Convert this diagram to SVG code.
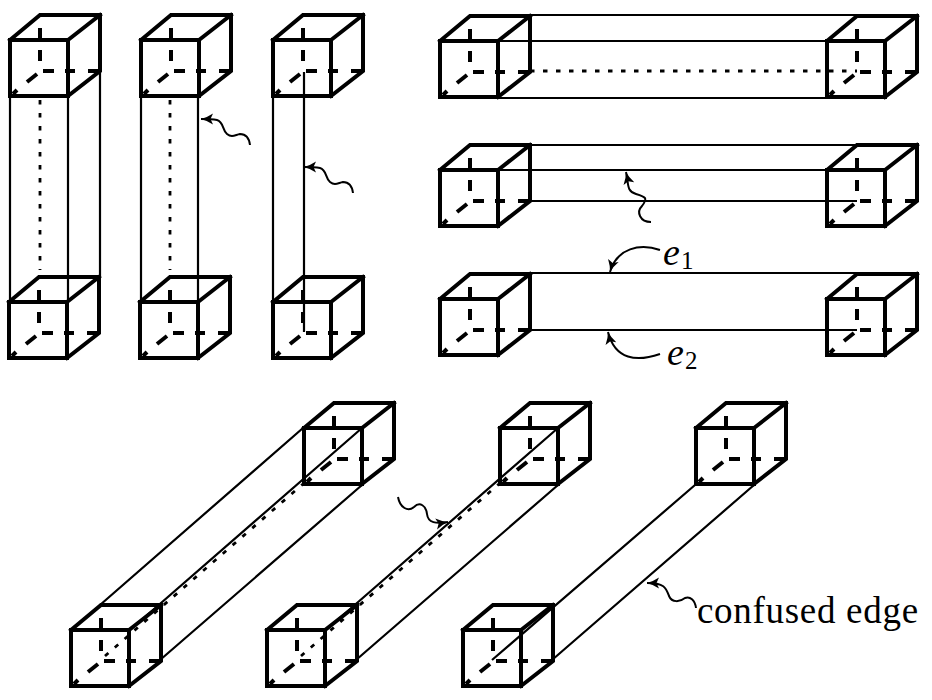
<svg xmlns="http://www.w3.org/2000/svg" width="932" height="700" viewBox="0 0 932 700">
<style>
.cube{fill:none;stroke:#000;stroke-width:4;stroke-linecap:square;stroke-linejoin:miter}
.hid{fill:none;stroke:#000;stroke-width:4;stroke-linecap:butt}
.thin{fill:none;stroke:#000;stroke-width:2.2}
.dot{fill:none;stroke:#000;stroke-width:2.8;stroke-dasharray:4.5 8.5}
.arr{fill:none;stroke:#000;stroke-width:2;marker-end:url(#head)}
text{font-family:"Liberation Serif","Times New Roman",serif;fill:#000}
.it{font-style:italic;font-size:38px}
.sub{font-size:25px}
.lab{font-size:37px;letter-spacing:0.7px}
</style>
<defs>
<marker id="head" markerUnits="userSpaceOnUse" markerWidth="16" markerHeight="14" refX="13" refY="7" orient="auto" overflow="visible">
<path d="M1 1.5Q7 5.5 13 7Q7 8.5 1 12.5L3.5 7Z" fill="#000"/>
</marker>
<g id="box">
<path class="cube" d="M0 0H58V56H0ZM0 0L30 -25H90V31L58 56M58 0L90 -25"/>
<path class="hid" d="M30 -12V-2M30 10V21M33 31H44M55 31H65M78 31H90M3 54L7 50M17 42L27 34"/>
</g>
</defs>
<g id="connectors">
<path class="thin" d="M10 96V302M68 96V302M100 71V277"/>
<path class="dot" d="M40 100V270"/>
<path class="thin" d="M141 96V302M198 96V302"/>
<path class="dot" d="M170 100V270"/>
<path class="thin" d="M273 96V302M304 72V332"/>
<path class="thin" d="M530 15H857M498 41H826M498 98H826"/>
<path class="dot" d="M530 71H857"/>
<path class="thin" d="M530 145H857M498 170H826M530 201H857"/>
<path class="thin" d="M530 273H857M530 330H857"/>
<path class="thin" d="M100 605L303 428M130 630L362 428M160 660L362 485"/>
<path class="dot" d="M105 656L303 484"/>
<path class="thin" d="M326 630L558 428M356 660L558 485"/>
<path class="dot" d="M301 656L499 484"/>
<path class="thin" d="M492 660L695 485M552 660L754 485"/>
<path class="arr" d="M250 145C249 137 245 134 240 134C235 135 232 138 227 134C222 130 224 122 217 120C212 119 207 119 201 119"/>
<path class="arr" d="M353 193C352 185 348 182 343 182C338 183 335 186 330 182C325 178 327 170 320 168C315 167 310 167 304 167"/>
<path class="arr" d="M651 222C640 222 636 212 642 206C648 198 646 197 636 194C626 191 629 184 626 172"/>
<path class="arr" d="M660 250C640 243 617 248 610 272"/>
<path class="arr" d="M660 354C637 362 615 360 608 332"/>
<path class="arr" d="M398 497C400 508 408 512 414 507C420 501 426 506 427 514C428 523 436 524 448 522"/>
<path class="arr" d="M696 608C695 600 690 596 685 598C680 602 672 603 669 596C666 588 665 583 647 583"/>
</g>
<g id="cube-a1"><use href="#box" x="10" y="40"/></g>
<g id="cube-a2"><use href="#box" x="141" y="40"/></g>
<g id="cube-a3"><use href="#box" x="273" y="40"/></g>
<g id="cube-b1"><use href="#box" x="9" y="302"/></g>
<g id="cube-b2"><use href="#box" x="140" y="302"/></g>
<g id="cube-b3"><use href="#box" x="273" y="302"/></g>
<g id="cube-c1"><use href="#box" x="440" y="41"/></g>
<g id="cube-c2"><use href="#box" x="827" y="41"/></g>
<g id="cube-d1"><use href="#box" x="440" y="170"/></g>
<g id="cube-d2"><use href="#box" x="827" y="170"/></g>
<g id="cube-e1"><use href="#box" x="440" y="299"/></g>
<g id="cube-e2"><use href="#box" x="827" y="299"/></g>
<g id="cube-f1"><use href="#box" x="304" y="428"/></g>
<g id="cube-f2"><use href="#box" x="500" y="428"/></g>
<g id="cube-f3"><use href="#box" x="696" y="428"/></g>
<g id="cube-g1"><use href="#box" x="71" y="630"/></g>
<g id="cube-g2"><use href="#box" x="267" y="630"/></g>
<g id="cube-g3"><use href="#box" x="463" y="630"/></g>
<g id="label-e1"><text class="it" x="663" y="265">e</text><text class="sub" x="681" y="269">1</text></g>
<g id="label-e2"><text class="it" x="667" y="365">e</text><text class="sub" x="685" y="369">2</text></g>
<g id="label-confused"><text class="lab" x="697" y="623">confused edge</text></g>
</svg>
